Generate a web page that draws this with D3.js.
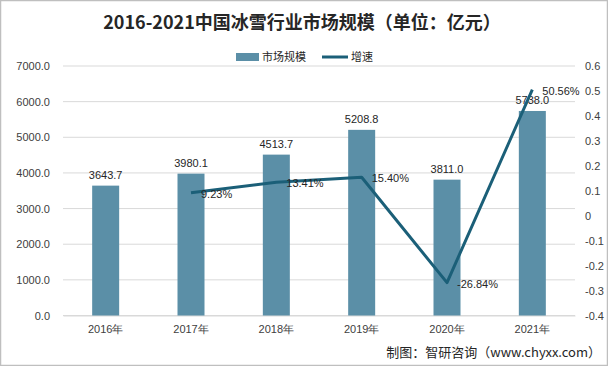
<!DOCTYPE html>
<html><head><meta charset="utf-8">
<script src="https://cdn.jsdelivr.net/npm/d3@7"></script>
<style>
body{margin:0;background:#fff;}
svg{display:block;font-family:"Noto Sans CJK SC","Liberation Sans",sans-serif;}
</style></head>
<body><svg id="c" width="608" height="366"></svg>
<script>
const categories = ["2016年","2017年","2018年","2019年","2020年","2021年"];
const marketSize = [3643.7, 3980.1, 4513.7, 5208.8, 3811.0, 5738.0];
const growth = [null, 0.0923, 0.1341, 0.1540, -0.2684, 0.5056];
const growthLabels = ["", "9.23%", "13.41%", "15.40%", "-26.84%", "50.56%"];
const leftTicks = [0,1000,2000,3000,4000,5000,6000,7000];
const rightTicks = [-0.4,-0.3,-0.2,-0.1,0,0.1,0.2,0.3,0.4,0.5,0.6];

const svg = d3.select("#c");
const W = 608, H = 366;
const m = {l:63, r:575, t:66, b:315.5};
svg.append("rect").attr("x",0.5).attr("y",0.5).attr("width",W-1).attr("height",H-1)
  .attr("fill","#fff").attr("stroke","#bfbfbf").attr("stroke-width",1.5);

const x = d3.scaleBand().domain(categories).range([m.l,m.r]).paddingInner(0).paddingOuter(0);
const yL = d3.scaleLinear().domain([0,7000]).range([m.b,m.t]);
const yR = d3.scaleLinear().domain([-0.4,0.6]).range([m.b,m.t]);

// gridlines
svg.append("g").selectAll("line").data(leftTicks).join("line")
  .attr("x1",m.l).attr("x2",m.r).attr("y1",d=>yL(d)).attr("y2",d=>yL(d))
  .attr("stroke","#d9d9d9").attr("stroke-width",1);

// left axis
const ga = svg.append("g").attr("transform",`translate(${m.l},0)`)
  .call(d3.axisLeft(yL).tickValues(leftTicks).tickFormat(d=>d.toFixed(1)).tickSize(0).tickPadding(13));
ga.select(".domain").remove();
ga.selectAll("text").attr("font-size",11).attr("fill","#404040").attr("font-family","Liberation Sans, sans-serif");

// right axis
const gr = svg.append("g").attr("transform",`translate(${m.r},0)`)
  .call(d3.axisRight(yR).tickValues(rightTicks).tickFormat(d=>d===0?"0":d.toFixed(1)).tickSize(0).tickPadding(10));
gr.select(".domain").remove();
gr.selectAll("text").attr("font-size",11).attr("fill","#404040").attr("font-family","Liberation Sans, sans-serif");

// bottom axis
const gb = svg.append("g").attr("transform",`translate(0,${m.b})`)
  .call(d3.axisBottom(x).tickSize(0).tickPadding(10));
gb.select(".domain").attr("stroke","#d9d9d9");
gb.selectAll("text").attr("font-size",11).attr("fill","#404040");

// bars
const bw = 27;
svg.append("g").selectAll("rect").data(marketSize).join("rect")
  .attr("x",(d,i)=>x(categories[i])+x.bandwidth()/2-bw/2)
  .attr("width",bw)
  .attr("y",d=>yL(d)).attr("height",d=>yL(0)-yL(d))
  .attr("fill","#5b8fa7");

svg.append("g").selectAll("text").data(marketSize).join("text")
  .attr("x",(d,i)=>x(categories[i])+x.bandwidth()/2)
  .attr("y",d=>yL(d)-7)
  .attr("text-anchor","middle").attr("font-size",11).attr("fill","#262626")
  .attr("font-family","Liberation Sans, sans-serif")
  .text(d=>d.toFixed(1));

// line
const pts = growth.map((g,i)=>({g,i})).filter(p=>p.g!==null);
const line = d3.line().x(p=>x(categories[p.i])+x.bandwidth()/2).y(p=>yR(p.g));
svg.append("path").datum(pts).attr("d",line).attr("fill","none")
  .attr("stroke","#1b5f78").attr("stroke-width",3).attr("stroke-linejoin","round");

svg.append("g").selectAll("text").data(pts).join("text")
  .attr("x",p=>x(categories[p.i])+x.bandwidth()/2+10)
  .attr("y",p=>yR(p.g)+5)
  .attr("font-size",11).attr("fill","#262626")
  .attr("font-family","Liberation Sans, sans-serif")
  .text(p=>growthLabels[p.i]);

// title
svg.append("text").attr("x",302).attr("y",29).attr("text-anchor","middle")
  .attr("font-size",18).attr("font-weight","bold").attr("fill","#262626")
  .text("2016-2021中国冰雪行业市场规模（单位：亿元）");

// legend
const lg = svg.append("g");
lg.append("rect").attr("x",236).attr("y",53).attr("width",23).attr("height",8).attr("fill","#5b8fa7");
lg.append("text").attr("x",262).attr("y",61).attr("font-size",11).attr("fill","#262626").text("市场规模");
lg.append("line").attr("x1",322).attr("x2",348).attr("y1",57).attr("y2",57).attr("stroke","#1b5f78").attr("stroke-width",3);
lg.append("text").attr("x",351).attr("y",61).attr("font-size",11).attr("fill","#262626").text("增速");

// source
svg.append("text").attr("x",601).attr("y",357).attr("text-anchor","end")
  .attr("font-size",13).attr("fill","#262626")
  .text("制图：智研咨询（www.chyxx.com）");
</script></body></html>
